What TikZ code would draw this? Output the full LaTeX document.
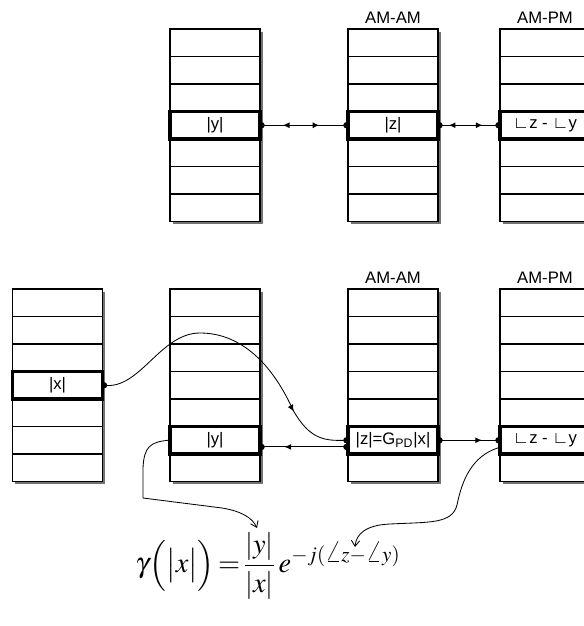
\documentclass[tikz,border=0pt]{standalone}
\usepackage{mathptmx}
\usepackage{fontspec}
\setmainfont{Liberation Sans}
\usepackage{tikz}
\usetikzlibrary{arrows.meta,shadows,decorations.markings}

\begin{document}
\begin{tikzpicture}[
  x=0.6pt, y=-0.6pt,
  lut/.style={draw, line width=1.1pt, fill=white, inner sep=0pt,
              minimum width=54pt, minimum height=115.5pt,
              drop shadow={shadow xshift=1.6pt, shadow yshift=-1.6pt, fill=black!55, opacity=1}},
  rowline/.style={line width=0.8pt},
  cellhl/.style={draw, line width=1.9pt, inner sep=0pt,
                 minimum width=54pt, minimum height=16.5pt},
  link/.style={line width=0.6pt},
  curve/.style={line width=0.5pt},
  midtips/.style={postaction={decorate}, decoration={markings, #1}},
  >={Latex[length=4pt,width=3.6pt]}
]
  \useasboundingbox (0,0) rectangle (584,626);

  % tables
  \foreach \tab/\cell/\cx/\cy/\r/\txt in {
      ytab1/y1/215/29/3/{|y|},
      ztab1/z1/393/29/3/{|z|},
      ptab1/p1/545/29/3/{∟z - ∟y},
      xtab2/x2/57.5/289/3/{|x|},
      ytab2/y2/215/289/5/{|y|},
      ztab2/z2/393/289/5/{|z|=G\textsubscript{PD}|x|},
      ptab2/p2/545/289/5/{∟z - ∟y}}
  {
    \node[lut] (\tab) at (\cx,\cy+96.25) {};
    \foreach \k in {1,...,6}
      \draw[rowline] (\cx-45,\cy+\k*27.5) -- (\cx+45,\cy+\k*27.5);
    \node[cellhl] (\cell) at (\cx,\cy+\r*27.5+13.75) {\txt};
  }

  \node (amam1) at (393,18)  {AM-AM};
  \node (ampm1) at (545,18)  {AM-PM};
  \node (amam2) at (393,278) {AM-AM};
  \node (ampm2) at (545,278) {AM-PM};

  \node (gain) at (268,566)
    {\fontsize{17}{21}\selectfont
     $\displaystyle \gamma\Bigl(\bigl|x\bigr|\Bigr)\mkern-2mu=\mkern-2mu\frac{|y|}{|x|}\,e^{-j(\angle z-\angle y)}$};

  \coordinate (tipy) at (257,528);
  \coordinate (tipp) at (355,547);

  % top links
  \draw[link, midtips={mark=at position 0.33 with {\arrow{<}}, mark=at position 0.68 with {\arrow{>}}}]
    (y1.east) -- (z1.west);
  \draw[link, midtips={mark=at position 0.27 with {\arrow{<}}, mark=at position 0.73 with {\arrow{>}}}]
    (z1.east) -- (p1.west);
  \foreach \p in {y1.east, z1.west, z1.east, p1.west}
    \fill (\p) circle (1.9pt);

  % bottom links
  \draw[curve, midtips={mark=at position 0.79 with {\arrow{>}}}]
    (x2.east) .. controls (140,390) and (160,333) .. (200,333)
              .. controls (245,333) and (275,370) .. (293,410)
              .. controls (310,440) and (325,441) .. (z2.west);
  \draw[link, midtips={mark=at position 0.73 with {\arrow{>}}}]
    ([yshift=-4pt]z2.west) -- ([yshift=-4pt]y2.east);
  \draw[link, midtips={mark=at position 0.72 with {\arrow{>}}}]
    (z2.east) -- (p2.west);
  \foreach \p in {x2.east, z2.west, z2.east, p2.west}
    \fill (\p) circle (1.9pt);
  \fill ([yshift=-4pt]z2.west) circle (1.9pt);
  \fill ([yshift=-4pt]y2.east) circle (1.9pt);

  % to the formula
  \draw[curve, -{Straight Barb[length=3.5pt,width=5pt]}]
    (y2.west) .. controls (150,442) and (144,447) .. (143,468)
              -- (143,498) -- (222,508)
              .. controls (240,511) and (252,517) .. (tipy);
  \draw[curve, -{Straight Barb[length=3.5pt,width=5pt]}]
    ([yshift=-4.5pt]p2.west) .. controls (472,456) and (462,480) .. (457,505)
              .. controls (452,524) and (430,522) .. (390,524)
              .. controls (366,525) and (356,534) .. (tipp);
\end{tikzpicture}
\end{document}
